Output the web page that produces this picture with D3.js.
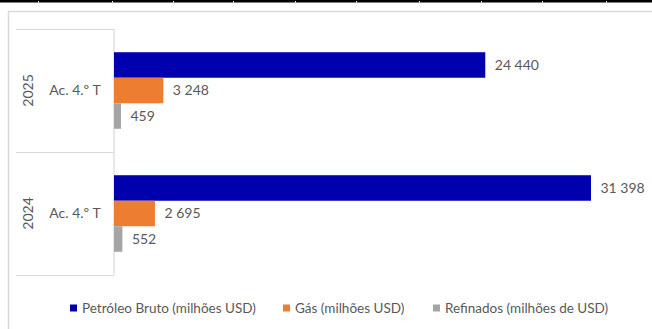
<!DOCTYPE html>
<html>
<head>
<meta charset="utf-8">
<script src="https://cdn.jsdelivr.net/npm/d3@7"></script>
<style>
  html, body { margin: 0; padding: 0; background: #fff; }
  svg { display: block; }
  text { font-family: Lato, "Noto Sans", sans-serif; fill: #595959; }
</style>
</head>
<body>
<div id="chart"></div>
<script>
const years = ["2025", "2024"];
const periods = ["Ac. 4.º T", "Ac. 4.º T"];
const seriesNames = ["Petróleo Bruto (milhões USD)", "Gás (milhões USD)", "Refinados (milhões de USD)"];
const petroleo = [24440, 31398];
const gas = [3248, 2695];
const refinados = [459, 552];
const xMax = 35000;

const colors = ["#0000AF", "#ED7D31", "#A5A5A5"];
const gridColor = "#D9D9D9";
const w = 652, h = 329;

// rows of the table above the chart (only the bottom border shows)
const tableCols = [38, 112, 173, 233, 295, 356, 419, 481, 542, 606];

const rows = years.map((y, i) => ({
  year: y,
  period: periods[i],
  values: [petroleo[i], gas[i], refinados[i]]
}));

const fmt = d3.formatLocale({ decimal: ",", thousands: "\u00a0", grouping: [3], currency: ["", ""] }).format(",d");

const svg = d3.select("#chart").append("svg")
  .attr("width", w)
  .attr("height", h);

// top black rule
svg.append("rect").attr("x", 0).attr("y", 0).attr("width", w).attr("height", 2.5).attr("fill", "#000");
svg.selectAll(".notch").data(tableCols).enter().append("rect")
  .attr("x", d => d).attr("y", 1).attr("width", 1).attr("height", 1.5).attr("fill", "#fff");

// chart area border
svg.append("path")
  .attr("d", "M8.5," + h + "V11.5H" + w)
  .attr("fill", "none")
  .attr("stroke", gridColor)
  .attr("stroke-width", 1.5);

const plotLeft = 114, plotRight = 645.7, plotTop = 29, plotBottom = 275;

const x = d3.scaleLinear().domain([0, xMax]).range([plotLeft, plotRight]);
const yCat = d3.scaleBand().domain(years).range([plotTop, plotBottom]);
const ySer = d3.scaleBand().domain(d3.range(seriesNames.length))
  .range([0, yCat.bandwidth()]).paddingInner(0).paddingOuter(0.91);

// category axis lines (multi-level)
const axis = svg.append("g");
axis.append("line")
  .attr("x1", plotLeft).attr("x2", plotLeft)
  .attr("y1", plotTop).attr("y2", plotBottom)
  .attr("stroke", gridColor).attr("stroke-width", 1.2);
const tickYs = years.map(d => yCat(d)).concat([plotBottom]);
axis.selectAll(".tick").data(tickYs).enter().append("line")
  .attr("x1", 16).attr("x2", plotLeft)
  .attr("y1", d => d + 0.5).attr("y2", d => d + 0.5)
  .attr("stroke", gridColor).attr("stroke-width", 1.2);

axis.selectAll(".period").data(rows).enter().append("text")
  .attr("x", 75)
  .attr("y", d => yCat(d.year) + yCat.bandwidth() / 2)
  .attr("dy", "0.35em")
  .attr("text-anchor", "middle")
  .attr("font-size", 14)
  .text(d => d.period);

axis.selectAll(".year").data(rows).enter().append("text")
  .attr("transform", d => "translate(33," + (yCat(d.year) + yCat.bandwidth() / 2) + ") rotate(-90)")
  .attr("text-anchor", "middle")
  .attr("font-size", 14)
  .text(d => d.year);

// bars
const groups = svg.selectAll(".grp").data(rows).enter().append("g")
  .attr("transform", d => "translate(0," + yCat(d.year) + ")");

groups.selectAll("rect").data(d => d.values).enter().append("rect")
  .attr("x", x(0))
  .attr("y", (d, i) => ySer(i))
  .attr("width", d => x(d) - x(0))
  .attr("height", ySer.bandwidth())
  .attr("fill", (d, i) => colors[i]);

groups.selectAll(".lbl").data(d => d.values).enter().append("text")
  .attr("x", d => x(d) + 9.5)
  .attr("y", (d, i) => ySer(i) + ySer.bandwidth() / 2)
  .attr("dy", "0.35em")
  .attr("font-size", 14)
  .text(d => fmt(d));

// legend
const legendX = [70, 283, 433];
const legend = svg.selectAll(".leg").data(seriesNames).enter().append("g")
  .attr("transform", (d, i) => "translate(" + legendX[i] + ",308)");
legend.append("rect")
  .attr("x", 0).attr("y", -3.5).attr("width", 7).attr("height", 7)
  .attr("fill", (d, i) => colors[i]);
legend.append("text")
  .attr("x", 12).attr("dy", "0.35em")
  .attr("font-size", 13.5)
  .text(d => d);
</script>
</body>
</html>
